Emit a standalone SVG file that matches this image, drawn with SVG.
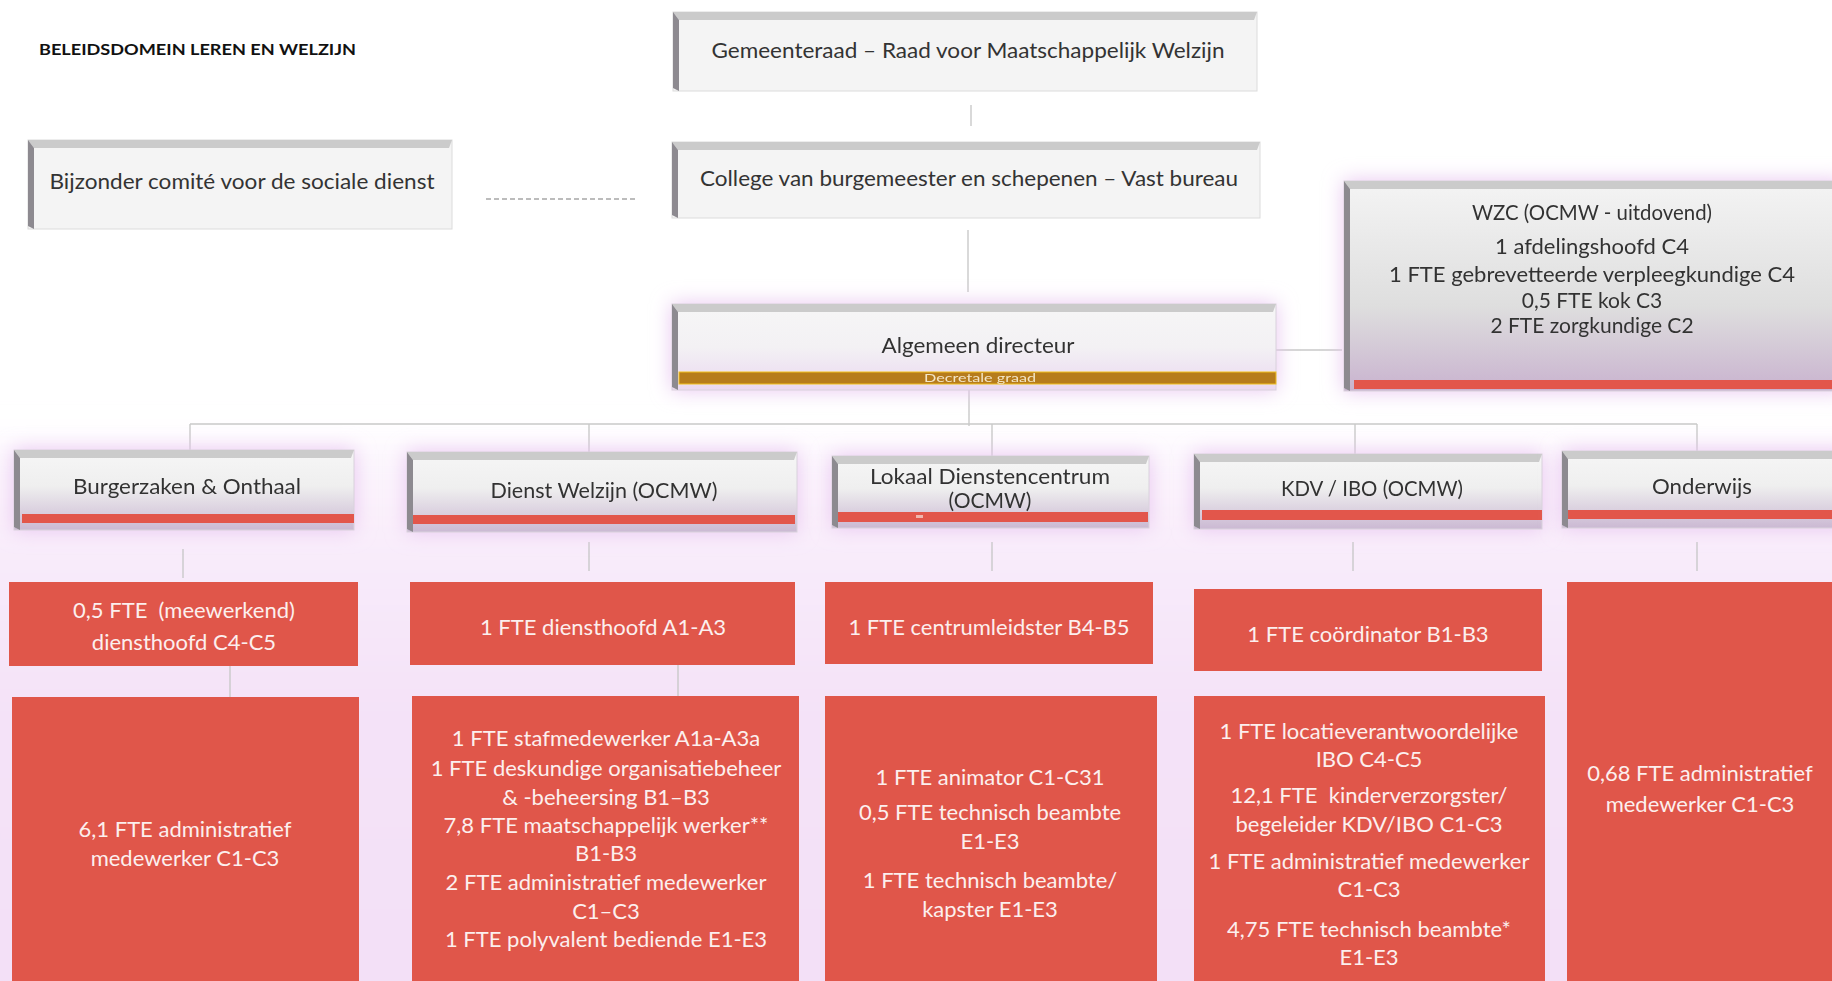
<svg xmlns="http://www.w3.org/2000/svg" width="1832" height="981" viewBox="0 0 1832 981">
<style>
text{font-family:Lato,"Open Sans","Liberation Sans",sans-serif;text-anchor:middle}
.hd{fill:#333333;font-size:21px}
.wt{fill:#fcefee;font-size:22px}
.ttl{fill:#111;font-size:15px;font-weight:bold;text-anchor:start}
.conn{stroke:#c9c9c9;stroke-width:1.4;fill:none}
.red{fill:#e0564a}
.bar{fill:#e2574b}
.topb{fill:#cbcbcb}
.leftb{fill:#8d8a90}
.plain{fill:#f4f4f4;stroke:#dcdcdc;stroke-width:1}
.hbox{fill:url(#hg);stroke:#d9d2dc;stroke-width:1}
</style>
<defs>
<linearGradient id="hg" x1="0" y1="0" x2="0" y2="1">
<stop offset="0" stop-color="#f6f6f6"/>
<stop offset="0.45" stop-color="#efefef"/>
<stop offset="1" stop-color="#cbb9d3"/>
</linearGradient>
<linearGradient id="ag" x1="0" y1="0" x2="0" y2="1">
<stop offset="0" stop-color="#f6f6f6"/>
<stop offset="0.5" stop-color="#f3f1f4"/>
<stop offset="1" stop-color="#ead8f0"/>
</linearGradient>
<linearGradient id="wg" x1="0" y1="0" x2="0" y2="1">
<stop offset="0" stop-color="#f4f4f4"/>
<stop offset="0.6" stop-color="#dedede"/>
<stop offset="1" stop-color="#c9b3cf"/>
</linearGradient>
<linearGradient id="bgg" x1="0" y1="0" x2="0" y2="1">
<stop offset="0" stop-color="#fdf8fe"/>
<stop offset="0.2" stop-color="#f8ebfa"/>
<stop offset="0.45" stop-color="#f4e2f8"/>
<stop offset="1" stop-color="#f3e0f7"/>
</linearGradient>
<filter id="glow" x="-20%" y="-40%" width="140%" height="180%">
<feFlood flood-color="#e8c6f0"/>
<feComposite in2="SourceAlpha" operator="in"/>
<feGaussianBlur stdDeviation="10"/>
<feMerge><feMergeNode/><feMergeNode in="SourceGraphic"/></feMerge>
</filter>
<filter id="soft" x="-5%" y="-10%" width="110%" height="120%">
<feGaussianBlur stdDeviation="16"/>
</filter>
</defs>

<rect width="1832" height="981" fill="#ffffff"/>
<rect x="-40" y="440" width="1912" height="600" fill="url(#bgg)" filter="url(#soft)"/>

<text class="ttl" x="39" y="55" textLength="317" lengthAdjust="spacingAndGlyphs">BELEIDSDOMEIN LEREN EN WELZIJN</text>

<g id="connectors">
<line class="conn" x1="971" y1="105" x2="971" y2="126"/>
<line class="conn" x1="968" y1="230" x2="968" y2="292"/>
<line class="conn" x1="969" y1="389" x2="969" y2="426"/>
<line class="conn" x1="190" y1="424" x2="1697" y2="424"/>
<line class="conn" x1="992" y1="424" x2="992" y2="456"/>
<line class="conn" x1="190" y1="424" x2="190" y2="450"/>
<line class="conn" x1="589" y1="424" x2="589" y2="452"/>
<line class="conn" x1="1355" y1="424" x2="1355" y2="454"/>
<line class="conn" x1="1697" y1="424" x2="1697" y2="451"/>
<line class="conn" x1="1276" y1="350" x2="1342" y2="350"/>
<line class="conn" x1="183" y1="549" x2="183" y2="578"/>
<line class="conn" x1="589" y1="542" x2="589" y2="571"/>
<line class="conn" x1="992" y1="542" x2="992" y2="571"/>
<line class="conn" x1="1353" y1="542" x2="1353" y2="571"/>
<line class="conn" x1="1697" y1="542" x2="1697" y2="571"/>
<line class="conn" x1="230" y1="666" x2="230" y2="697"/>
<line class="conn" x1="678" y1="665" x2="678" y2="696"/>
<line x1="486" y1="199" x2="637" y2="199" stroke="#7a7a7a" stroke-width="1.2" stroke-dasharray="5,3"/>
</g>

<g id="gemeenteraad">
<rect class="plain" x="673" y="12" width="584" height="79"/>
<polygon class="topb" points="673,12 1257,12 1254,20 679,20"/>
<polygon class="leftb" points="673,12 679,20 679,91 673,88"/>
<text class="hd" x="968" y="58" textLength="513" lengthAdjust="spacingAndGlyphs">Gemeenteraad – Raad voor Maatschappelijk Welzijn</text>
</g>

<g id="bijzonder">
<rect class="plain" x="28" y="140" width="424" height="89"/>
<polygon class="topb" points="28,140 452,140 449,148 34,148"/>
<polygon class="leftb" points="28,140 34,148 34,229 28,226"/>
<text class="hd" x="242" y="189" textLength="385" lengthAdjust="spacingAndGlyphs">Bijzonder comité voor de sociale dienst</text>
</g>

<g id="college">
<rect class="plain" x="672" y="142" width="588" height="76"/>
<polygon class="topb" points="672,142 1260,142 1257,150 678,150"/>
<polygon class="leftb" points="672,142 678,150 678,218 672,215"/>
<text class="hd" x="969" y="186" textLength="538" lengthAdjust="spacingAndGlyphs">College van burgemeester en schepenen – Vast bureau</text>
</g>

<g id="algemeen-directeur" filter="url(#glow)">
<rect x="672" y="304" width="604" height="86" fill="url(#ag)" stroke="#d9d2dc"/>
<polygon class="topb" points="672,304 1276,304 1273,312 678,312"/>
<polygon class="leftb" points="672,304 678,312 678,390 672,387"/>
<rect x="679" y="372" width="597" height="12" fill="#b67b1f" stroke="#f2c21a" stroke-width="1"/>
<text x="978" y="353" class="hd" textLength="193" lengthAdjust="spacingAndGlyphs">Algemeen directeur</text>
<text x="980" y="382" fill="#f3e6c4" font-size="11" textLength="112" lengthAdjust="spacingAndGlyphs">Decretale graad</text>
</g>

<g id="wzc" filter="url(#glow)">
<rect x="1344" y="181" width="500" height="210" fill="url(#wg)" stroke="#d9d2dc"/>
<polygon class="topb" points="1344,181 1844,181 1844,189 1350,189"/>
<polygon class="leftb" points="1344,181 1350,189 1350,391 1344,388"/>
<rect class="bar" x="1354" y="380" width="490" height="9"/>
<text class="hd" x="1592" y="220" textLength="240" lengthAdjust="spacingAndGlyphs">WZC (OCMW - uitdovend)</text>
<text class="hd" x="1592" y="254" textLength="194" lengthAdjust="spacingAndGlyphs">1 afdelingshoofd C4</text>
<text class="hd" x="1592" y="282" textLength="406" lengthAdjust="spacingAndGlyphs">1 FTE gebrevetteerde verpleegkundige C4</text>
<text class="hd" x="1592" y="308">0,5 FTE kok C3</text>
<text class="hd" x="1592" y="333">2 FTE zorgkundige C2</text>
</g>

<g id="burgerzaken" filter="url(#glow)">
<rect class="hbox" x="14" y="450" width="340" height="80"/>
<polygon class="topb" points="14,450 354,450 351,458 20,458"/>
<polygon class="leftb" points="14,450 20,458 20,530 14,527"/>
<rect class="bar" x="22" y="514" width="332" height="9"/>
<text class="hd" x="187" y="494" textLength="228" lengthAdjust="spacingAndGlyphs">Burgerzaken &amp; Onthaal</text>
</g>

<g id="dienst-welzijn" filter="url(#glow)">
<rect class="hbox" x="407" y="452" width="390" height="80"/>
<polygon class="topb" points="407,452 797,452 794,460 413,460"/>
<polygon class="leftb" points="407,452 413,460 413,532 407,529"/>
<rect class="bar" x="413" y="515" width="382" height="9"/>
<text class="hd" x="604" y="498" textLength="227" lengthAdjust="spacingAndGlyphs">Dienst Welzijn (OCMW)</text>
</g>

<g id="lokaal-dienstencentrum" filter="url(#glow)">
<rect class="hbox" x="832" y="456" width="317" height="72"/>
<polygon class="topb" points="832,456 1149,456 1146,464 838,464"/>
<polygon class="leftb" points="832,456 838,464 838,528 832,525"/>
<text class="hd" x="990" y="484" textLength="240" lengthAdjust="spacingAndGlyphs">Lokaal Dienstencentrum</text>
<text class="hd" x="990" y="508">(OCMW)</text>
<rect class="bar" x="838" y="512" width="310" height="10"/>
<rect x="916" y="515" width="7" height="3" fill="#f0b6ae"/>
</g>

<g id="kdv-ibo" filter="url(#glow)">
<rect class="hbox" x="1194" y="454" width="348" height="75"/>
<polygon class="topb" points="1194,454 1542,454 1539,462 1200,462"/>
<polygon class="leftb" points="1194,454 1200,462 1200,529 1194,526"/>
<rect class="bar" x="1202" y="510" width="340" height="10"/>
<text class="hd" x="1372" y="496" textLength="182" lengthAdjust="spacingAndGlyphs">KDV / IBO (OCMW)</text>
</g>

<g id="onderwijs" filter="url(#glow)">
<rect class="hbox" x="1562" y="451" width="290" height="77"/>
<polygon class="topb" points="1562,451 1852,451 1852,459 1568,459"/>
<polygon class="leftb" points="1562,451 1568,459 1568,528 1562,525"/>
<rect class="bar" x="1568" y="510" width="284" height="9"/>
<text class="hd" x="1702" y="494" textLength="100" lengthAdjust="spacingAndGlyphs">Onderwijs</text>
</g>

<g id="burgerzaken-hoofd">
<rect class="red" x="9" y="582" width="349" height="84"/>
<text class="wt" x="184" y="618" style="white-space:pre">0,5 FTE  (meewerkend)</text>
<text class="wt" x="184" y="650">diensthoofd C4-C5</text>
</g>
<g id="burgerzaken-team">
<rect class="red" x="12" y="697" width="347" height="300"/>
<text class="wt" x="185" y="837">6,1 FTE administratief</text>
<text class="wt" x="185" y="866">medewerker C1-C3</text>
</g>

<g id="welzijn-hoofd">
<rect class="red" x="410" y="582" width="385" height="83"/>
<text class="wt" x="603" y="635">1 FTE diensthoofd A1-A3</text>
</g>
<g id="welzijn-team">
<rect class="red" x="412" y="696" width="387" height="300"/>
<text class="wt" x="606" y="746">1 FTE stafmedewerker A1a-A3a</text>
<text class="wt" x="606" y="776">1 FTE deskundige organisatiebeheer</text>
<text class="wt" x="606" y="805">&amp; -beheersing B1–B3</text>
<text class="wt" x="606" y="833">7,8 FTE maatschappelijk werker**</text>
<text class="wt" x="606" y="861">B1-B3</text>
<text class="wt" x="606" y="890">2 FTE administratief medewerker</text>
<text class="wt" x="606" y="919">C1–C3</text>
<text class="wt" x="606" y="947">1 FTE polyvalent bediende E1-E3</text>
</g>

<g id="lokaal-hoofd">
<rect class="red" x="825" y="582" width="328" height="82"/>
<text class="wt" x="989" y="635">1 FTE centrumleidster B4-B5</text>
</g>
<g id="lokaal-team">
<rect class="red" x="825" y="696" width="332" height="300"/>
<text class="wt" x="990" y="785">1 FTE animator C1-C31</text>
<text class="wt" x="990" y="820">0,5 FTE technisch beambte</text>
<text class="wt" x="990" y="849">E1-E3</text>
<text class="wt" x="990" y="888">1 FTE technisch beambte/</text>
<text class="wt" x="990" y="917">kapster E1-E3</text>
</g>

<g id="kdv-hoofd">
<rect class="red" x="1194" y="589" width="348" height="82"/>
<text class="wt" x="1368" y="642">1 FTE coördinator B1-B3</text>
</g>
<g id="kdv-team">
<rect class="red" x="1194" y="696" width="351" height="300"/>
<text class="wt" x="1369" y="739">1 FTE locatieverantwoordelijke</text>
<text class="wt" x="1369" y="767">IBO C4-C5</text>
<text class="wt" x="1369" y="803" style="white-space:pre">12,1 FTE  kinderverzorgster/</text>
<text class="wt" x="1369" y="832">begeleider KDV/IBO C1-C3</text>
<text class="wt" x="1369" y="869">1 FTE administratief medewerker</text>
<text class="wt" x="1369" y="897">C1-C3</text>
<text class="wt" x="1369" y="937">4,75 FTE technisch beambte*</text>
<text class="wt" x="1369" y="965">E1-E3</text>
</g>

<g id="onderwijs-team">
<rect class="red" x="1567" y="582" width="285" height="415"/>
<text class="wt" x="1700" y="781">0,68 FTE administratief</text>
<text class="wt" x="1700" y="812">medewerker C1-C3</text>
</g>
</svg>
